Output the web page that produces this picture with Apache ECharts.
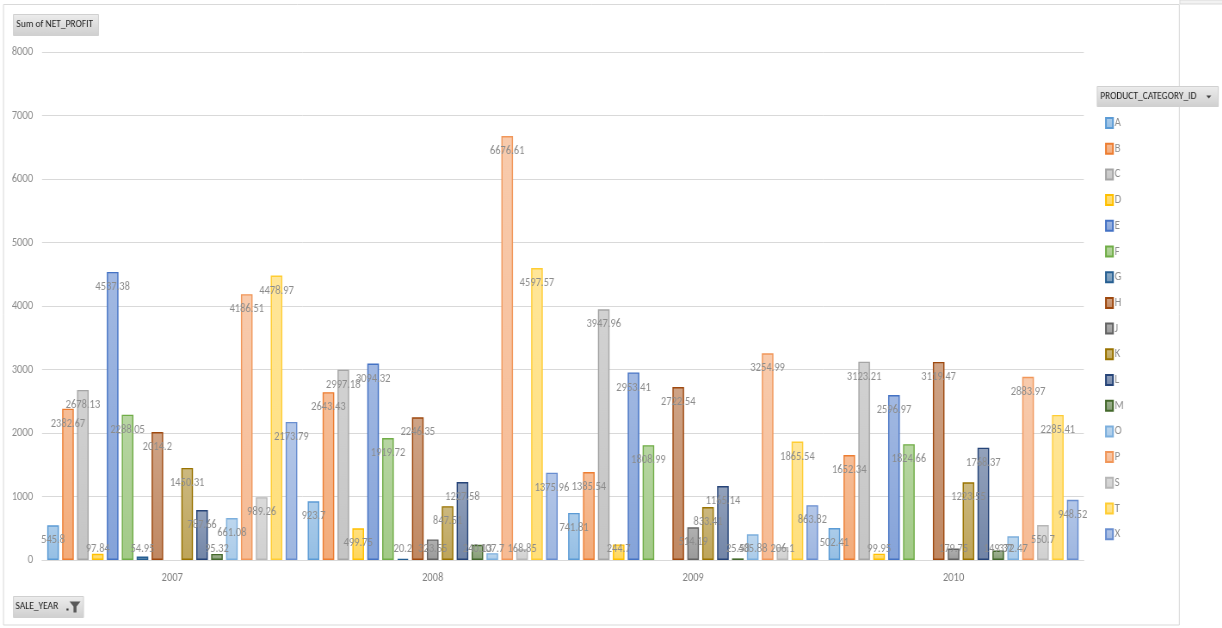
<!DOCTYPE html>
<html>
<head>
<meta charset="utf-8">
<script src="https://cdn.jsdelivr.net/npm/echarts@6/dist/echarts.min.js"></script>
<style>
html,body{margin:0;padding:0;background:#fff;overflow:hidden;width:1222px;height:628px;}
#c{height:628px;transform-origin:0 0;}
</style>
</head>
<body>
<div id="c"></div>
<script>
var years = ['2007', '2008', '2009', '2010'];
var categoryIds = ['A','B','C','D','E','F','G','H','J','K','L','M','O','P','S','T','X'];
var A = [545.8, 923.7, 741.81, 502.41];
var B = [2382.67, 2643.43, 1385.54, 1652.34];
var C = [2678.13, 2997.18, 3947.96, 3123.21];
var D = [97.84, 499.75, 244.7, 99.95];
var E = [4537.38, 3094.32, 2953.41, 2596.97];
var F = [2288.05, 1919.72, 1808.99, 1824.66];
var G = [54.95, 20.2, null, null];
var H = [2014.2, 2246.35, 2722.54, 3119.47];
var J = [null, 323.55, 514.19, 179.75];
var K = [1450.31, 847.51, 833.41, 1223.55];
var L = [787.66, 1227.58, 1165.14, 1768.37];
var M = [95.32, 240.13, 25.58, 149.37];
var O = [661.08, 107.7, 405.88, 372.47];
var P = [4186.51, 6676.61, 3254.99, 2883.97];
var S = [989.26, 168.85, 206.1, 550.7];
var T = [4478.97, 4597.57, 1865.54, 2285.41];
var X = [2173.79, 1375.96, 863.82, 948.52];
var yTicks = [0, 1000, 2000, 3000, 4000, 5000, 6000, 7000, 8000];

var seriesValues = [A,B,C,D,E,F,G,H,J,K,L,M,O,P,S,T,X];
var colors = ['#5B9BD5','#ED7D31','#A5A5A5','#FFC000','#4472C4','#70AD47','#255E91','#9E480E','#636363','#997300','#264478','#43682B','#7CAFDD','#F1975A','#B7B7B7','#FFCD33','#698ED0'];

// the reference picture is horizontally compressed; draw wider and squeeze
var K_SQ = 0.86;
var W = 1222 / K_SQ;
var cdiv = document.getElementById('c');
cdiv.style.width = W + 'px';
cdiv.style.transform = 'scaleX(' + K_SQ + ')';
function sx(v) { return v / K_SQ; }

function mix(hex, t) {
  var r = parseInt(hex.substr(1,2),16), g = parseInt(hex.substr(3,2),16), b = parseInt(hex.substr(5,2),16);
  r = Math.round(r + (255 - r) * t); g = Math.round(g + (255 - g) * t); b = Math.round(b + (255 - b) * t);
  return 'rgb(' + r + ',' + g + ',' + b + ')';
}

var FONT = 'Carlito, Calibri, "Roboto Condensed", sans-serif';
var ctx = document.createElement('canvas').getContext('2d');
ctx.font = '12px ' + FONT;
var FS = Math.round(12 * sx(34.5) / ctx.measureText('4537.38').width * 10) / 10;
var HFS = Math.round(12 * sx(96) / ctx.measureText('PRODUCT_CATEGORY_ID').width * 10) / 10;

var labelColor = '#8C8C8C';

var series = categoryIds.map(function (id, i) {
  var col = colors[i];
  return {
    name: id,
    type: 'bar',
    barGap: '28%',
    barCategoryGap: '4%',
    itemStyle: {
      color: {
        type: 'linear', x: 0, y: 0, x2: 0, y2: 1,
        colorStops: [{offset: 0, color: mix(col, 0.5)}, {offset: 1, color: mix(col, 0.35)}]
      },
      borderColor: col,
      borderWidth: 1.4
    },
    label: {
      show: true,
      position: 'insideTop',
      distance: 9,
      color: labelColor,
      fontFamily: FONT,
      fontSize: FS,
      formatter: function (p) { return p.value; }
    },
    data: seriesValues[i].map(function (v) {
      if (v === null) return null;
      if (v < 470) {
        return { value: v, label: { position: 'insideBottom', distance: 5 } };
      }
      return v;
    })
  };
});

var btnFill = { type: 'linear', x: 0, y: 0, x2: 0, y2: 1, colorStops: [{offset: 0, color: '#EDEDED'}, {offset: 1, color: '#CFCFCF'}] };

var chart = echarts.init(cdiv, null, { width: W, height: 628 });
chart.setOption({
  animation: false,
  backgroundColor: '#fff',
  grid: { left: sx(42), right: sx(139), top: 52, bottom: 68 },
  xAxis: {
    type: 'category',
    data: years,
    axisLine: { lineStyle: { color: '#D9D9D9', width: 1 } },
    axisTick: { show: false },
    axisLabel: { color: '#808080', fontFamily: FONT, fontSize: FS, margin: 12 }
  },
  yAxis: {
    type: 'value',
    min: yTicks[0],
    max: yTicks[yTicks.length - 1],
    interval: 1000,
    axisLine: { show: false },
    axisTick: { show: false },
    axisLabel: { color: '#8C8C8C', fontFamily: FONT, fontSize: FS, margin: sx(9), align: 'right', formatter: function (v) { return String(v); } },
    splitLine: { lineStyle: { color: '#D9D9D9', width: 1 } }
  },
  legend: {
    orient: 'vertical',
    left: sx(1100),
    top: 112,
    itemWidth: sx(7),
    itemHeight: 10,
    itemGap: 13.7,
    icon: 'rect',
    textStyle: { color: '#8C8C8C', fontFamily: FONT, fontSize: FS, lineHeight: 12, padding: [0, 0, 0, -3] },
    data: categoryIds
  },
  graphic: [
    { type: 'rect', shape: { x: sx(3.5), y: 4.5, width: sx(1175), height: 620.5 }, style: { fill: 'none', stroke: '#D9D9D9', lineWidth: 1 }, silent: true },
    { type: 'rect', shape: { x: sx(1179), y: 0, width: sx(43), height: 4 }, style: { fill: '#F2F2F2', stroke: '#D9D9D9', lineWidth: 1 }, silent: true },
    {
      type: 'group', left: sx(13), top: 14,
      children: [
        { type: 'rect', shape: { x: 0, y: 0, width: sx(85), height: 21 }, style: { fill: btnFill, stroke: '#D0D0D0' } },
        { type: 'text', x: sx(3), y: 4, style: { text: 'Sum of NET_PROFIT', fill: '#1F1F1F', font: HFS + 'px ' + FONT } }
      ]
    },
    {
      type: 'group', left: sx(13), top: 596,
      children: [
        { type: 'rect', shape: { x: 0, y: 0, width: sx(70), height: 21 }, style: { fill: btnFill, stroke: '#D0D0D0' } },
        { type: 'text', x: sx(2), y: 4, style: { text: 'SALE_YEAR', fill: '#1F1F1F', font: HFS + 'px ' + FONT } },
        { type: 'rect', shape: { x: sx(53), y: 12, width: sx(2), height: 2 }, style: { fill: '#333' } },
        { type: 'polygon', shape: { points: [[sx(56), 5], [sx(67), 5], [sx(63), 10], [sx(63), 16], [sx(60), 16], [sx(60), 10]] }, style: { fill: '#595959' } }
      ]
    },
    {
      type: 'group', left: sx(1096), top: 86,
      children: [
        { type: 'rect', shape: { x: 0, y: 0, width: sx(121), height: 20 }, style: { fill: btnFill, stroke: '#D0D0D0' } },
        { type: 'text', x: sx(3), y: 4, style: { text: 'PRODUCT_CATEGORY_ID', fill: '#1F1F1F', font: HFS + 'px ' + FONT } },
        { type: 'polygon', shape: { points: [[sx(109), 9], [sx(114), 9], [sx(111.5), 12]] }, style: { fill: '#404040' } }
      ]
    }
  ],
  series: series
});
</script>
</body>
</html>
